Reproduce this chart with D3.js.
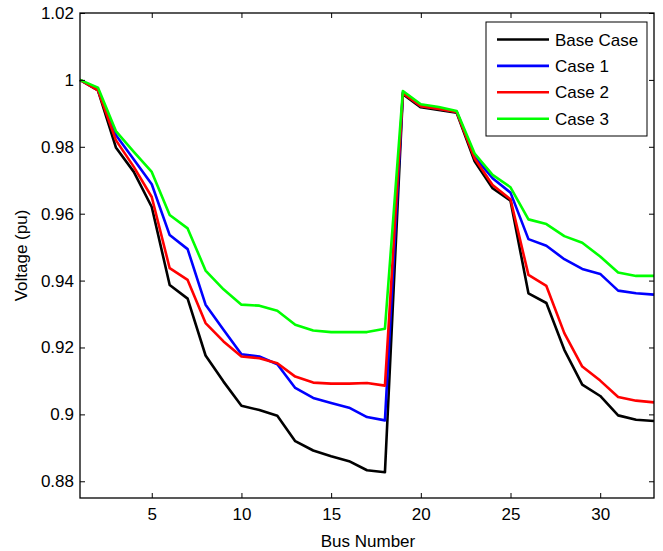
<!DOCTYPE html>
<html><head><meta charset="utf-8">
<script src="https://cdn.jsdelivr.net/npm/d3@7"></script>
<style>body{margin:0;background:#fff}svg{display:block}text{font-family:"Liberation Sans",Arial,sans-serif}</style>
</head><body><svg id="c" width="663" height="551"></svg>
<script>
const buses = d3.range(1, 34);
const seriesNames = ["Base Case", "Case 1", "Case 2", "Case 3"];
const seriesColors = ["#000000", "#0000ff", "#ff0000", "#00ff00"];
const baseCase = [1.0,0.9969,0.9798,0.9725,0.962,0.9387,0.9346,0.9176,0.9098,0.9026,0.9013,0.8996,0.892,0.8892,0.8875,0.886,0.8833,0.8827,0.9957,0.9918,0.991,0.9902,0.9757,0.9676,0.9639,0.9362,0.9333,0.9193,0.9089,0.9055,0.8997,0.8984,0.898];
const case1 = [1.0,0.997,0.9835,0.9762,0.9688,0.9536,0.9494,0.9328,0.9253,0.918,0.9173,0.915,0.9079,0.9049,0.9034,0.902,0.8992,0.8982,0.9962,0.9922,0.9914,0.9905,0.977,0.9706,0.9663,0.9524,0.9504,0.9464,0.9435,0.942,0.937,0.9362,0.9358];
const case2 = [1.0,0.9969,0.982,0.974,0.965,0.9437,0.9402,0.9273,0.9218,0.9173,0.9168,0.9153,0.9113,0.9095,0.9092,0.9092,0.9094,0.9086,0.996,0.9921,0.9913,0.9904,0.9765,0.9686,0.9643,0.9417,0.9384,0.9243,0.9143,0.9101,0.9052,0.9041,0.9036];
const case3 = [1.0,0.9977,0.9847,0.9785,0.9725,0.9596,0.9556,0.943,0.9374,0.9328,0.9325,0.931,0.9268,0.9251,0.9246,0.9246,0.9246,0.9256,0.9967,0.9927,0.9919,0.9907,0.978,0.9716,0.9679,0.9583,0.9569,0.9533,0.9513,0.9472,0.9424,0.9414,0.9414];
const seriesValues = [baseCase, case1, case2, case3];
const xTicks = [5, 10, 15, 20, 25, 30];
const yTicks = [0.88, 0.9, 0.92, 0.94, 0.96, 0.98, 1.0, 1.02];
const yTickLabels = ["0.88", "0.9", "0.92", "0.94", "0.96", "0.98", "1", "1.02"];
const xLabel = "Bus Number", yLabel = "Voltage (pu)";

const svg = d3.select("#c");
const L = 80, R = 654, T = 13, B = 498;
const x = d3.scaleLinear().domain([1, 33]).range([L, R]);
const y = d3.scaleLinear().domain([0.875, 1.02]).range([B, T]);
const fs = 17;

// lines
const line = d3.line().x((d, i) => x(buses[i])).y(d => y(d));
seriesValues.forEach((vals, k) => {
  svg.append("path").attr("d", line(vals)).attr("fill", "none")
    .attr("stroke", seriesColors[k]).attr("stroke-width", 2.6).attr("stroke-linejoin", "round");
});

// axes (box with inward ticks)
const tl = 5;
const gB = svg.append("g").attr("transform", `translate(0,${B})`)
  .call(d3.axisBottom(x).tickValues(xTicks).tickSizeInner(-tl).tickSizeOuter(0).tickPadding(10));
const gT = svg.append("g").attr("transform", `translate(0,${T})`)
  .call(d3.axisTop(x).tickValues(xTicks).tickSizeInner(-tl).tickSizeOuter(0).tickFormat(""));
const gL = svg.append("g").attr("transform", `translate(${L},0)`)
  .call(d3.axisLeft(y).tickValues(yTicks).tickSizeInner(-tl).tickSizeOuter(0).tickPadding(6).tickFormat((d, i) => yTickLabels[i]));
const gR = svg.append("g").attr("transform", `translate(${R},0)`)
  .call(d3.axisRight(y).tickValues(yTicks).tickSizeInner(-tl).tickSizeOuter(0).tickFormat(""));
[gB, gT, gL, gR].forEach(g => {
  g.selectAll(".domain").remove();
  g.selectAll("line").attr("stroke", "#000").attr("stroke-width", 1);
  g.selectAll("text").attr("font-size", fs).attr("fill", "#000").style("font-family", '"Liberation Sans",Arial,sans-serif');
});
svg.append("rect").attr("x", L).attr("y", T).attr("width", R - L).attr("height", B - T)
  .attr("fill", "none").attr("stroke", "#000").attr("stroke-width", 1.3);

// axis labels
svg.append("text").attr("x", (L + R) / 2 + 1).attr("y", 547).attr("text-anchor", "middle")
  .attr("font-size", fs).text(xLabel);
svg.append("text").attr("transform", `translate(27,${(T + B) / 2}) rotate(-90)`).attr("text-anchor", "middle")
  .attr("font-size", fs).text(yLabel);

// legend
const lg = svg.append("g");
lg.append("rect").attr("x", 486).attr("y", 22).attr("width", 161).attr("height", 114)
  .attr("fill", "#fff").attr("stroke", "#000").attr("stroke-width", 1);
seriesNames.forEach((n, k) => {
  const yy = 39.5 + k * 26.4;
  lg.append("line").attr("x1", 497).attr("x2", 549).attr("y1", yy).attr("y2", yy)
    .attr("stroke", seriesColors[k]).attr("stroke-width", 2.6);
  lg.append("text").attr("x", 555).attr("y", yy + 6).attr("font-size", fs).text(n);
});
</script></body></html>
